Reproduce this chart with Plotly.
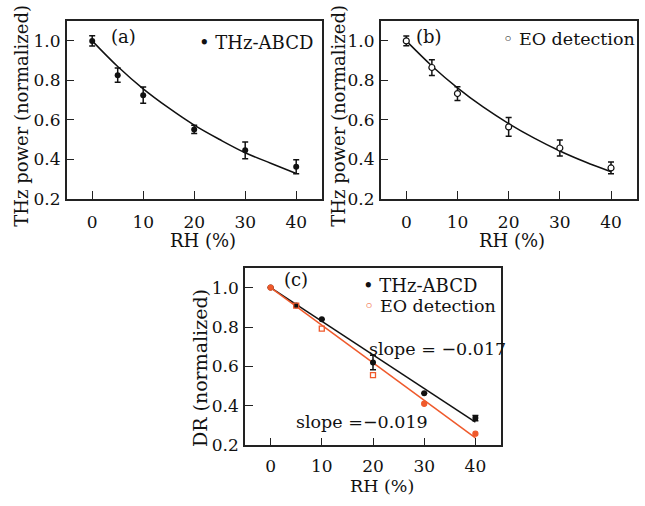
import plotly.graph_objects as go

# ---------------- data ----------------
rh = [0, 5, 10, 20, 30, 40]
abcd_power = [1.0, 0.826, 0.725, 0.551, 0.445, 0.362]
abcd_power_err = [0.026, 0.036, 0.041, 0.021, 0.043, 0.036]
eo_power = [1.0, 0.865, 0.733, 0.564, 0.457, 0.356]
eo_power_err = [0.025, 0.040, 0.035, 0.047, 0.041, 0.030]

fit_rh = [0, 5, 10, 15, 20, 25, 30, 35, 40]
abcd_fit = [1.0, 0.870, 0.757, 0.660, 0.573, 0.500, 0.433, 0.380, 0.328]
eo_fit = [1.0, 0.873, 0.762, 0.665, 0.581, 0.507, 0.442, 0.386, 0.337]

abcd_dr = [1.0, 0.909, 0.839, 0.620, 0.464, 0.338]
abcd_dr_err = [0.0, 0.0, 0.0, 0.037, 0.0, 0.013]
eo_dr = [1.0, 0.909, 0.792, 0.556, 0.411, 0.259]

line_rh = [0, 40]
abcd_dr_fit = [1.0, 0.318]
eo_dr_fit = [1.0, 0.238]

x_ticks = [0, 10, 20, 30, 40]
y_ticks = [0.2, 0.4, 0.6, 0.8, 1.0]

# ---------------- styling ----------------
W, H = 645, 506
FONT = "DejaVu Serif"
RED = "#ef5a2c"
BLACK = "#111111"


def px(x):
    return x / W


def py(y):
    return (H - y) / H


fig = go.Figure()

# (a)
fig.add_trace(go.Scatter(x=fit_rh, y=abcd_fit, mode="lines", line=dict(color=BLACK, width=1.5, shape="spline"),
                         xaxis="x", yaxis="y", showlegend=False))
fig.add_trace(go.Scatter(x=rh, y=abcd_power, mode="markers",
                         marker=dict(symbol="circle", size=6, color=BLACK),
                         error_y=dict(type="data", array=abcd_power_err, color=BLACK, thickness=1.5, width=3),
                         xaxis="x", yaxis="y", showlegend=False))
# (b)
fig.add_trace(go.Scatter(x=fit_rh, y=eo_fit, mode="lines", line=dict(color=BLACK, width=1.5, shape="spline"),
                         xaxis="x2", yaxis="y2", showlegend=False))
fig.add_trace(go.Scatter(x=rh, y=eo_power, mode="markers",
                         marker=dict(symbol="circle", size=6, color="white", line=dict(color=BLACK, width=1.2)),
                         error_y=dict(type="data", array=eo_power_err, color=BLACK, thickness=1.5, width=3),
                         xaxis="x2", yaxis="y2", showlegend=False))
# (c)
fig.add_trace(go.Scatter(x=line_rh, y=abcd_dr_fit, mode="lines", line=dict(color=BLACK, width=1.5),
                         xaxis="x3", yaxis="y3", showlegend=False))
fig.add_trace(go.Scatter(x=line_rh, y=eo_dr_fit, mode="lines", line=dict(color=RED, width=1.5),
                         xaxis="x3", yaxis="y3", showlegend=False))
fig.add_trace(go.Scatter(x=rh, y=abcd_dr, mode="markers",
                         marker=dict(symbol="circle", size=6, color=BLACK),
                         error_y=dict(type="data", array=abcd_dr_err, color=BLACK, thickness=1.5, width=3),
                         xaxis="x3", yaxis="y3", showlegend=False))
fig.add_trace(go.Scatter(x=rh, y=eo_dr, mode="markers",
                         marker=dict(symbol=["circle", "square-open", "square-open", "square-open", "circle", "circle"],
                                     size=5, color=RED, line=dict(color=RED, width=1.3)),
                         xaxis="x3", yaxis="y3", showlegend=False))

axis_common = dict(
    showline=True, linecolor="#222222", linewidth=1.5, mirror=True,
    ticks="inside", ticklen=8, tickwidth=1.3, tickcolor="#222222",
    showgrid=False, zeroline=False,
    tickfont=dict(family=FONT, size=17, color=BLACK),
)

xcommon = dict(axis_common, range=[-5, 45], tickvals=x_ticks, ticklabelstandoff=7)
ycommon = dict(axis_common, range=[0.2, 1.1], tickvals=y_ticks, tickformat=".1f", ticklabelstandoff=1)

fig.update_layout(
    width=W, height=H,
    margin=dict(l=0, r=0, t=0, b=0),
    paper_bgcolor="white", plot_bgcolor="white",
    font=dict(family=FONT, size=17, color=BLACK),
    xaxis=dict(xcommon, domain=[px(66.7), px(321.7)], anchor="y"),
    yaxis=dict(ycommon, domain=[py(202.7), py(21.6)], anchor="x"),
    xaxis2=dict(xcommon, domain=[px(380.7), px(636.6)], anchor="y2"),
    yaxis2=dict(ycommon, domain=[py(202.7), py(21.6)], anchor="x2"),
    xaxis3=dict(xcommon, domain=[px(245), px(501)], anchor="y3", ticklabelstandoff=5),
    yaxis3=dict(ycommon, domain=[py(454.3), py(273.3)], anchor="x3"),
)

ann = []


def add(text, x, y, xanchor="center", angle=0, size=17.5, color=BLACK):
    ann.append(dict(text=text, x=px(x), y=py(y), xref="paper", yref="paper",
                    xanchor=xanchor, yanchor="middle", textangle=angle, showarrow=False,
                    font=dict(family=FONT, size=size, color=color)))


# axis titles
add("THz power (normalized)", 22, 118, angle=-90, size=18)
add("THz power (normalized)", 339, 118, angle=-90, size=18)
add("DR (normalized)", 199.5, 376, angle=-90, size=19)
add("RH (%)", 203, 245, size=18)
add("RH (%)", 512, 245, size=18)
add("RH (%)", 382, 495.5, size=17.5)

# panel labels and legends
add("(a)", 109, 37, xanchor="left", size=18)
add("• THz-ABCD", 197, 43, xanchor="left", size=18)
add("(b)", 414, 37, xanchor="left", size=18)
add("◦ EO detection", 501, 40, xanchor="left", size=17.5)
add("(c)", 282, 285, xanchor="left", size=18)
add("• THz-ABCD", 361, 291, xanchor="left", size=18)
add("<span style='color:%s'>◦</span> EO detection" % RED, 362, 312, xanchor="left", size=17.5)
add("slope = −0.017", 367, 356, xanchor="left", size=17.5)
add("slope =−0.019", 294, 430, xanchor="left", size=17.5)

fig.update_layout(annotations=ann)

fig.write_html("out.html")
